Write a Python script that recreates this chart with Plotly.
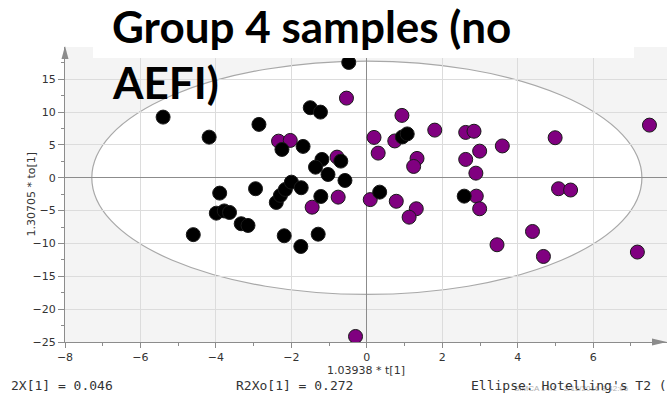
import plotly.graph_objects as go

# ---- data ----
black_x = [-5.40, -4.18, -2.86, -0.48, -1.50, -1.23, -2.25, -1.69, -0.69, -1.19,
           -1.36, -1.03, -0.58, 0.94, 1.07, -3.90, -2.95, -2.40, -2.29, -2.16,
           -2.00, -1.74, -1.22, -3.99, -3.78, -3.64, -3.33, -3.15, -4.60, -2.19,
           -1.75, -1.29, 0.34, 2.58]
black_y = [9.23, 6.18, 8.12, 17.55, 10.66, 9.99, 4.31, 4.77, 2.53, 2.79,
           1.61, 0.50, -0.41, 6.21, 6.67, -2.34, -1.67, -3.76, -2.69, -1.78,
           -0.67, -1.52, -2.85, -5.39, -5.05, -5.28, -7.00, -7.26, -8.66, -8.83,
           -10.46, -8.59, -2.19, -2.80]

purple_x = [-0.54, -2.34, -2.03, -0.79, 0.19, 0.30, 0.93, 0.74, 1.33, 1.24,
            1.80, 2.62, 2.84, 2.99, 3.59, 2.62, 2.89, 4.99, 7.49, -1.45,
            -0.76, 0.09, 0.78, 1.31, 1.12, 2.90, 2.99, 5.08, 5.40, 4.39,
            3.45, 4.68, 7.17, -0.30]
purple_y = [12.12, 5.57, 5.68, 3.14, 6.14, 3.75, 9.49, 5.60, 2.94, 1.72,
            7.25, 6.90, 7.08, 4.05, 4.84, 2.79, 0.70, 6.09, 8.01, -4.48,
            -2.95, -3.33, -3.58, -4.72, -6.00, -2.80, -4.72, -1.67, -1.87, -8.18,
            -10.20, -11.98, -11.31, -24.16]

x_ticks = [-8, -6, -4, -2, 0, 2, 4, 6]
y_ticks = [-25, -20, -15, -10, -5, 0, 5, 10, 15]

ellipse_a = 7.29   # Hotelling's T2 ellipse semi-axis along t[1]
ellipse_b = 17.76  # semi-axis along to[1]

title_lines = ["Group 4 samples (no", "AEFI)"]
x_title = "1.03938 * t[1]"
y_title = "1.30705 * to[1]"
footer_left = "2X[1] = 0.046"
footer_mid = "R2Xo[1] = 0.272"
footer_right = "Ellipse: Hotelling's T2 (95%)"
watermark = "SIMCA 14.1 - 2/15/2016 8:42:06"

# ---- figure ----
W, H = 667, 395
ML, MR, MT, MB = 65, 0, 47, 53
PW, PH = W - ML - MR, H - MT - MB

def px_x(p):
    return (p - ML) / PW

def px_y(p):
    return (H - MB - p) / PH

axis_grey = "#8c8c8c"
marker_line = dict(color="#1a1a1a", width=1)

fig = go.Figure()
fig.add_trace(go.Scatter(x=purple_x, y=purple_y, mode="markers",
                         marker=dict(size=14, color="#800080", line=marker_line),
                         showlegend=False))
fig.add_trace(go.Scatter(x=black_x, y=black_y, mode="markers",
                         marker=dict(size=14, color="#000000", line=marker_line),
                         showlegend=False))

tickfont = dict(family="DejaVu Sans", size=11, color="#333333")

fig.update_layout(
    width=W, height=H,
    margin=dict(l=ML, r=MR, t=MT, b=MB),
    paper_bgcolor="white",
    plot_bgcolor="#f4f4f4",
    xaxis=dict(range=[-8, 7.955], tickvals=x_ticks, showgrid=True, gridcolor="#dcdcdc",
               zeroline=True, zerolinecolor=axis_grey, zerolinewidth=1,
               showline=True, linecolor=axis_grey, linewidth=1,
               ticks="outside", ticklen=5, tickcolor=axis_grey,
               minor=dict(dtick=1, tick0=0, ticks="outside", ticklen=3,
                          tickcolor=axis_grey, showgrid=False),
               tickfont=tickfont,
               title=dict(text=x_title, font=tickfont, standoff=3)),
    yaxis=dict(range=[-25, 19.9], tickvals=y_ticks, showgrid=True, gridcolor="#dcdcdc",
               zeroline=True, zerolinecolor=axis_grey, zerolinewidth=1,
               showline=True, linecolor=axis_grey, linewidth=1,
               ticks="outside", ticklen=6, tickcolor=axis_grey,
               minor=dict(dtick=2.5, tick0=0, ticks="outside", ticklen=3,
                          tickcolor=axis_grey, showgrid=False),
               tickfont=tickfont),
)

shapes = [
    dict(type="circle", xref="x", yref="y", x0=-ellipse_a, x1=ellipse_a,
         y0=-ellipse_b, y1=ellipse_b, fillcolor="white",
         line=dict(color="#a8a8a8", width=1.2), layer="below"),
    dict(type="rect", xref="paper", yref="paper", x0=px_x(93), x1=px_x(634),
         y0=px_y(58), y1=px_y(-5), fillcolor="white", line=dict(width=0), layer="above"),
    dict(type="path", xref="paper", yref="paper",
         path=f"M {px_x(65)},{px_y(46)} L {px_x(61.5)},{px_y(59)} L {px_x(68.5)},{px_y(59)} Z",
         fillcolor=axis_grey, line=dict(width=0), layer="above"),
    dict(type="path", xref="paper", yref="paper",
         path=f"M {px_x(667)},{px_y(342)} L {px_x(652)},{px_y(338.5)} L {px_x(652)},{px_y(345.5)} Z",
         fillcolor=axis_grey, line=dict(width=0), layer="above"),
]
fig.update_layout(shapes=shapes)

title_font = dict(family="Lato", size=44, color="black", weight="bold")
mono = dict(family="DejaVu Sans Mono", size=13, color="#333333")
annotations = [
    dict(text=title_lines[0], x=px_x(110), y=px_y(26), xanchor="left", yanchor="middle"),
    dict(text=title_lines[1], x=px_x(110), y=px_y(82), xanchor="left", yanchor="middle"),
]
for a in annotations:
    a.update(xref="paper", yref="paper", showarrow=False, font=title_font)
annotations += [
    dict(text=y_title, x=px_x(31), y=px_y(194.5), xanchor="center", yanchor="middle",
         textangle=-90, xref="paper", yref="paper", showarrow=False, font=tickfont),
    dict(text=footer_left, x=px_x(9), y=px_y(385), xanchor="left", yanchor="middle",
         xref="paper", yref="paper", showarrow=False, font=mono),
    dict(text=footer_mid, x=px_x(234), y=px_y(385), xanchor="left", yanchor="middle",
         xref="paper", yref="paper", showarrow=False, font=mono),
    dict(text=watermark, x=px_x(512), y=px_y(395), xanchor="left", yanchor="bottom",
         xref="paper", yref="paper", showarrow=False,
         font=dict(family="Liberation Sans", size=8, color="#b0b0b0")),
    dict(text=footer_right, x=px_x(469), y=px_y(385), xanchor="left", yanchor="middle",
         xref="paper", yref="paper", showarrow=False, font=mono),
]
fig.update_layout(annotations=annotations)

fig.write_html("out.html")
